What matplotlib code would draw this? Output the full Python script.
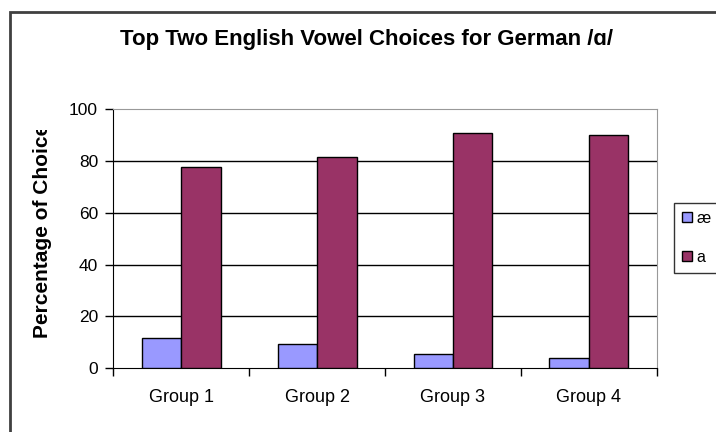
import matplotlib.pyplot as plt
from matplotlib.patches import Rectangle
from matplotlib.transforms import Bbox
import numpy as np

groups = ['Group 1', 'Group 2', 'Group 3', 'Group 4']
ae_values = [11.6, 9.3, 5.5, 3.9]
a_values = [77.6, 81.5, 91.0, 90.2]
series_names = ['æ', 'a']

plt.rcParams['font.family'] = ['Liberation Sans', 'DejaVu Sans']

fig = plt.figure(figsize=(7.16, 4.32), dpi=100)
ax = fig.add_axes([0.1583, 0.1475, 0.7589, 0.5995])

x = np.arange(len(groups))
w = 0.29
ax.bar(x - w / 2, ae_values, w, color='#9999FF', edgecolor='black', linewidth=1, label=series_names[0], zorder=3)
ax.bar(x + w / 2, a_values, w, color='#993366', edgecolor='black', linewidth=1, label=series_names[1], zorder=3)

ax.set_xlim(-0.5, 3.5)
ax.set_ylim(0, 100)
ax.set_yticks([0, 20, 40, 60, 80, 100])
ax.set_xticks(x)
ax.set_xticklabels(groups)
ax.set_xticks(np.arange(-0.5, 4, 1), minor=True)
ax.tick_params(axis='x', which='major', length=0, pad=15, labelsize=13)
ax.tick_params(axis='x', which='minor', length=6, width=1, color='black', direction='out')
ax.tick_params(axis='y', length=6, width=1, direction='out', pad=5, labelsize=12.5)

# gridlines (black, Excel style)
for yv in [20, 40, 60, 80]:
    ax.axhline(yv, color='black', linewidth=1, zorder=1)

ax.spines['top'].set_color('#999999')
ax.spines['right'].set_color('#999999')
ax.spines['left'].set_color('black')
ax.spines['bottom'].set_color('black')

# y label, cut off at the top like the original
ylab = fig.text(43 / 716, 1 - 338 / 432, 'Percentage of Choice', rotation=90,
                ha='center', va='bottom', fontsize=15, fontweight='bold')
ylab.set_clip_box(Bbox([[0, 0], [716, 432 - 130]]))
ylab.set_clip_on(True)

fig.text(367 / 716, 1 - 40 / 432, 'Top Two English Vowel Choices for German /\u0251/',
         ha='center', va='center', fontsize=16, fontweight='bold')

leg = fig.legend(loc='upper left', bbox_to_anchor=(674 / 716, 1 - 203 / 432),
                 frameon=True, fancybox=False, edgecolor='black', fontsize=11.5,
                 handlelength=0.6, handleheight=0.6, handletextpad=0.3,
                 labelspacing=1.5, borderpad=0.5, borderaxespad=0)
leg.get_frame().set_linewidth(1)

# outer chart border (only top and left are visible)
fig.patches.append(Rectangle((10 / 716, -0.2), 1.2, 1.2 - 12.5 / 432,
                             transform=fig.transFigure, fill=False,
                             edgecolor='#404040', linewidth=2))

fig.savefig('out.png', dpi=100)
